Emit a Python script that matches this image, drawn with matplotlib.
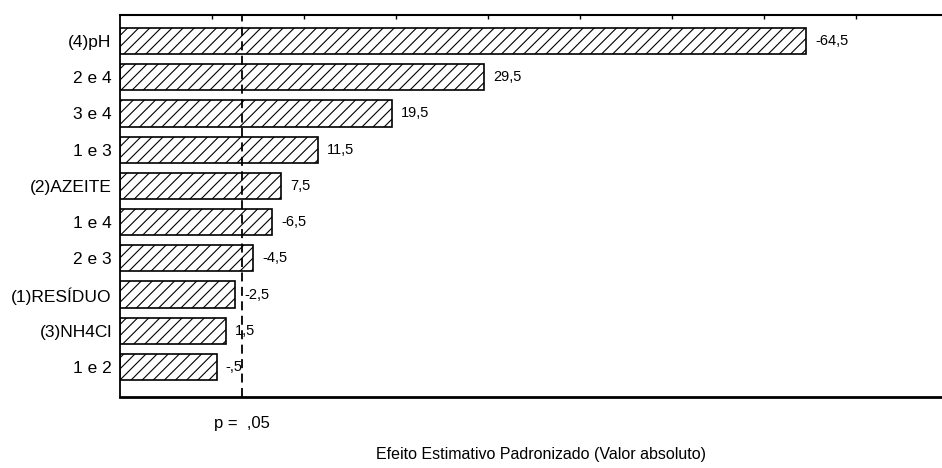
import matplotlib
matplotlib.use("Agg")
import matplotlib.pyplot as plt
from matplotlib import font_manager

# Standardized effects (signed), ordered by absolute size
factors = ["(4)pH", "2 e 4", "3 e 4", "1 e 3", "(2)AZEITE",
           "1 e 4", "2 e 3", "(1)RESÍDUO", "(3)NH4Cl", "1 e 2"]
effects = [-64.5, 29.5, 19.5, 11.5, 7.5, -6.5, -4.5, -2.5, 1.5, -0.5]
p_limit = 3.3          # critical value for p = .05
p_label = "p =  ,05"
x_title = "Efeito Estimativo Padronizado (Valor absoluto)"

x_min, x_max = -10.0, 79.3

names = {f.name for f in font_manager.fontManager.ttflist}
family = ["Liberation Sans Narrow", "Liberation Sans", "DejaVu Sans"]
family = [f for f in family if f in names] or ["DejaVu Sans"]
plt.rcParams["font.family"] = family
plt.rcParams["hatch.linewidth"] = 0.8


def fmt(v):
    s = f"{v:.1f}".replace(".", ",")
    s = s.replace("-0,", "-,").replace("0,", ",") if abs(v) < 1 else s
    return s


fig = plt.figure(figsize=(9.42, 4.68), dpi=100)
ax = fig.add_axes([120 / 942, 1 - 397 / 468, 1 - 120 / 942, (397 - 15) / 468])

pos = list(range(len(factors)))
mags = [abs(v) for v in effects]
ax.barh(pos, [m - x_min for m in mags], left=x_min, height=0.72,
        color="white", edgecolor="black", linewidth=1.2, hatch="///")

for y, m, v in zip(pos, mags, effects):
    ax.text(m + 1.0, y, fmt(v), va="center", ha="left", fontsize=10.5)

ax.axvline(p_limit, color="black", linestyle=(0, (5, 3)), linewidth=1.3)

ax.set_xlim(x_min, x_max)
ax.set_ylim(len(factors) - 0.17, -0.72)

ax.set_yticks(pos)
ax.set_yticklabels(factors, fontsize=12.5)
ax.tick_params(axis="y", length=0, pad=6)

ax.xaxis.set_ticks_position("top")
ax.set_xticks(range(0, 80, 10))
ax.tick_params(axis="x", direction="in", length=3, width=1, labeltop=False,
               labelbottom=False, top=True, bottom=False)

ax.spines["right"].set_visible(False)
ax.spines["left"].set_linewidth(1.3)
ax.spines["top"].set_linewidth(1.5)
ax.spines["bottom"].set_linewidth(2.0)

ax.text(p_limit, -0.07, p_label, transform=ax.get_xaxis_transform(),
        ha="center", va="center", fontsize=12)
fig.text(541 / 942, 1 - 455 / 468, x_title, ha="center", va="center",
         fontsize=11.5)

fig.savefig("out.png", dpi=100)
